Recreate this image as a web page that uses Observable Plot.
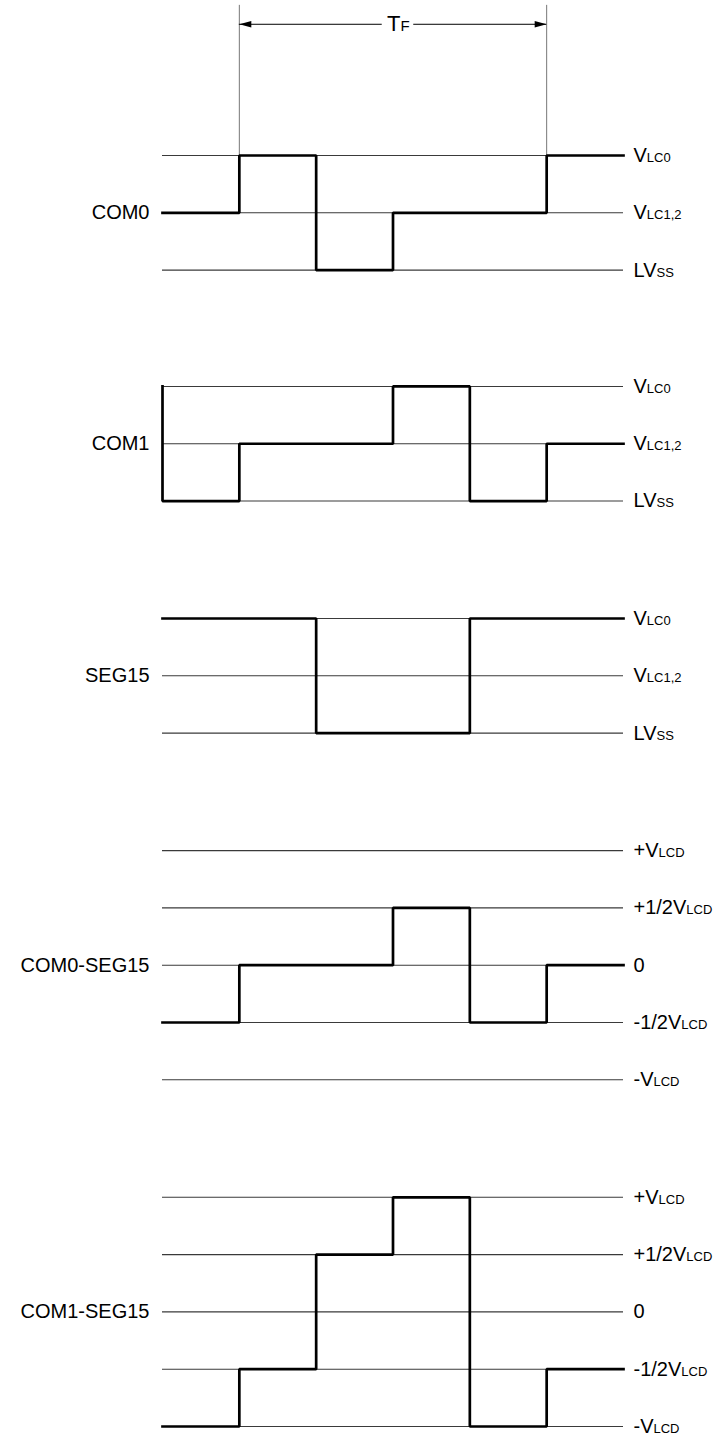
<!DOCTYPE html>
<html><head><meta charset="utf-8">
<script src="https://cdn.jsdelivr.net/npm/d3@7"></script>
<script src="https://cdn.jsdelivr.net/npm/@observablehq/plot@0.6"></script>
<style>
body{margin:0;background:#fff}
#chart svg{font-family:Arial,"Liberation Sans",Helvetica,sans-serif;background:#fff}
</style>
</head><body><div id="chart"></div>
<script>
// ---- data ----
const times = [0, 1, 2, 3, 4, 5, 6];
const signals = ["COM0", "COM1", "SEG15", "COM0-SEG15", "COM1-SEG15"];
const comLevelValues = [1, 0, -1];
const comLevelLabels = ["V_LC0", "V_LC1,2", "LV_SS"];
const diffLevelValues = [1, 0.5, 0, -0.5, -1];
const diffLevelLabels = ["+V_LCD", "+1/2V_LCD", "0", "-1/2V_LCD", "-V_LCD"];
// value in each of the 6 intervals
const com0 = [0, 1, -1, 0, 0, 1];
const com1 = [-1, 0, 0, 1, -1, 0];
const com1Start = 1;
const seg15 = [1, 1, -1, -1, 1, 1];
const com0seg15 = [-0.5, 0, 0, 0.5, -0.5, 0];
const com1seg15 = [-1, -0.5, 0.5, 1, -1, -0.5];
const tfStart = 1, tfEnd = 5, tfLabel = "T_F";

// ---- layout (rows of 1 level spacing) ----
const panelCenter = [1, 5.03, 9.08, 14.13, 20.18];
const panelScale = [1, 1, 1, 2, 2];
const panelKind = ["com", "com", "com", "diff", "diff"];
const waves = [com0, com1, seg15, com0seg15, com1seg15];
const row = (p, v) => panelCenter[p] - v * panelScale[p];

const refRows = [], waveRows = [], rightLabels = [];
signals.forEach((s, p) => {
  const vals = panelKind[p] === "com" ? comLevelValues : diffLevelValues;
  const labs = panelKind[p] === "com" ? comLevelLabels : diffLevelLabels;
  vals.forEach((v, i) => {
    refRows.push({signal: s, y: row(p, v)});
    rightLabels.push({signal: s, y: row(p, v), label: labs[i]});
  });
  const w = waves[p];
  if (s === "COM1") waveRows.push({signal: s, x: 0, y: row(p, com1Start)});
  w.forEach((v, i) => waveRows.push({signal: s, x: times[i], y: row(p, v)}));
  waveRows.push({signal: s, x: times[6], y: row(p, w[5])});
});
const leftLabels = signals.map((s, p) => ({signal: s, y: panelCenter[p]}));

const tfTop = -2.62, tfArrow = -2.29;
const arrowHead = {draw(ctx) { ctx.moveTo(0, 0); ctx.lineTo(-12, -3.2); ctx.lineTo(-12, 3.2); ctx.closePath(); }};

const plot = Plot.plot({
  width: 718, height: 1439,
  marginLeft: 162, marginRight: 95, marginTop: 155, marginBottom: 13,
  x: {domain: [0, 6], axis: null},
  y: {domain: [0, 22.18], reverse: true, axis: null},
  style: {background: "#fff"},
  marks: [
    Plot.ruleY(refRows, {y: "y", x1: 0, x2: 6, stroke: "#3a3a3a", strokeWidth: 1.1}),
    Plot.ruleX([tfStart, tfEnd], {x: d => d, y1: tfTop, y2: 0, stroke: "#777", strokeWidth: 1}),
    Plot.ruleY([tfArrow], {y: d => d, x1: tfStart, x2: 2.86, stroke: "#000", strokeWidth: 1}),
    Plot.ruleY([tfArrow], {y: d => d, x1: 3.27, x2: tfEnd, stroke: "#000", strokeWidth: 1}),
    Plot.dot([{x: tfStart, r: 180}, {x: tfEnd, r: 0}], {x: "x", y: tfArrow, rotate: "r", symbol: arrowHead, fill: "#000", stroke: "none", r: 4}),
    Plot.text([tfLabel], {x: 3.07, y: tfArrow, text: d => d, fontSize: 22, fill: "#000", textAnchor: "middle"}),
    Plot.line(waveRows, {x: "x", y: "y", z: "signal", curve: "step-after", stroke: "#000", strokeWidth: 2.7, strokeLinejoin: "miter", strokeLinecap: "square"}),
    Plot.text(leftLabels, {x: 0, y: "y", text: "signal", dx: -13, textAnchor: "end", fontSize: 20, fill: "#000"}),
    Plot.text(rightLabels, {x: 6, y: "y", text: "label", dx: 10, textAnchor: "start", fontSize: 20, fill: "#000"})
  ]
});
document.getElementById("chart").appendChild(plot);
// subscripts
d3.select(plot).selectAll("text").each(function() {
  const t = this.textContent;
  if (!t.includes("_")) return;
  const [main, sub] = t.split("_");
  const fs = parseFloat(getComputedStyle(this).fontSize) || 20;
  this.textContent = "";
  d3.select(this).append("tspan").text(main);
  d3.select(this).append("tspan").attr("font-size", Math.round(fs * 0.66)).text(sub);
});
</script>
</body></html>
